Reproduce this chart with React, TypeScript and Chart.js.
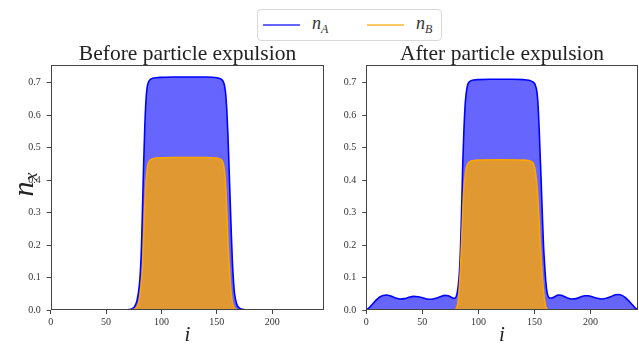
import React, { useEffect, useRef } from "react";
import { Chart, registerables } from "chart.js";

Chart.register(...registerables);

// ---------------- data ----------------
const beforeX = [0, 60, 70, 72, 74, 76, 78, 80, 81, 82, 83, 84, 85, 86, 87, 88, 89, 90, 92, 95, 100, 110, 120, 130, 140, 150, 153, 155, 156, 157, 158, 159, 160, 161, 162, 163, 164, 165, 166, 168, 170, 172, 175, 180, 247];
const beforeA = [0, 0, 0.001, 0.002, 0.005, 0.012, 0.03, 0.075, 0.12, 0.2, 0.33, 0.46, 0.57, 0.645, 0.685, 0.7, 0.707, 0.711, 0.714, 0.716, 0.717, 0.718, 0.718, 0.718, 0.718, 0.716, 0.713, 0.708, 0.702, 0.69, 0.665, 0.615, 0.54, 0.44, 0.34, 0.24, 0.15, 0.09, 0.05, 0.018, 0.007, 0.003, 0.001, 0, 0];
const beforeB = [0, 0, 0, 0, 0.001, 0.003, 0.01, 0.03, 0.055, 0.09, 0.135, 0.23, 0.33, 0.39, 0.43, 0.45, 0.458, 0.462, 0.466, 0.468, 0.469, 0.47, 0.47, 0.47, 0.47, 0.468, 0.465, 0.458, 0.448, 0.425, 0.375, 0.3, 0.21, 0.145, 0.09, 0.05, 0.025, 0.012, 0.005, 0.001, 0, 0, 0, 0, 0];

const afterAX = [0, 3, 6, 9, 12, 15, 18, 21, 24, 27, 30, 34, 38, 42, 46, 50, 54, 58, 62, 66, 70, 73, 76, 78, 79, 80, 81, 82, 83, 84, 85, 86, 87, 88, 89, 90, 91, 93, 96, 100, 110, 120, 130, 140, 145, 148, 150, 151, 152, 153, 154, 155, 156, 157, 158, 159, 160, 161, 162, 163, 165, 168, 171, 174, 177, 180, 183, 187, 191, 195, 198, 202, 206, 210, 214, 218, 222, 225, 228, 231, 234, 237, 240, 242];
const afterA = [0, 0.008, 0.02, 0.031, 0.04, 0.045, 0.046, 0.044, 0.04, 0.036, 0.034, 0.035, 0.039, 0.042, 0.041, 0.038, 0.034, 0.033, 0.036, 0.041, 0.045, 0.044, 0.039, 0.036, 0.036, 0.04, 0.052, 0.075, 0.115, 0.19, 0.31, 0.45, 0.55, 0.625, 0.665, 0.688, 0.699, 0.706, 0.709, 0.71, 0.711, 0.711, 0.711, 0.71, 0.708, 0.704, 0.698, 0.69, 0.675, 0.64, 0.57, 0.48, 0.39, 0.29, 0.2, 0.14, 0.09, 0.058, 0.043, 0.038, 0.037, 0.041, 0.046, 0.045, 0.041, 0.036, 0.034, 0.035, 0.04, 0.044, 0.044, 0.04, 0.036, 0.034, 0.036, 0.041, 0.047, 0.048, 0.045, 0.038, 0.028, 0.017, 0.006, 0];

const afterBX = [0, 78, 80, 81, 82, 83, 84, 85, 86, 87, 88, 89, 90, 92, 95, 100, 120, 140, 145, 148, 149, 150, 151, 152, 153, 154, 155, 156, 157, 158, 159, 160, 161, 163, 242];
const afterB = [0, 0, 0.003, 0.01, 0.03, 0.07, 0.13, 0.21, 0.3, 0.37, 0.41, 0.435, 0.447, 0.456, 0.46, 0.462, 0.463, 0.462, 0.46, 0.455, 0.45, 0.44, 0.42, 0.39, 0.34, 0.28, 0.21, 0.15, 0.1, 0.06, 0.03, 0.012, 0.004, 0, 0];

const xTicks = [0, 50, 100, 150, 200];
const yTicks = [0, 0.1, 0.2, 0.3, 0.4, 0.5, 0.6, 0.7];
const titles = ["Before particle expulsion", "After particle expulsion"];
const seriesLabels = ["A", "B"];

const BLUE = "#0000ff";
const ORANGE = "#ffa500";
const SERIF = '"Liberation Serif", "DejaVu Serif", serif';

const pts = (xs: number[], ys: number[]) => xs.map((x, i) => ({ x, y: ys[i] }));

const framePlugin = {
  id: "frame",
  afterDraw(chart: any) {
    const { ctx, chartArea: a } = chart;
    ctx.save();
    ctx.strokeStyle = "#444";
    ctx.lineWidth = 1;
    const l = Math.round(a.left) + 0.5;
    const t = Math.round(a.top) + 0.5;
    const r = Math.round(a.right) - 0.5;
    const b = Math.round(a.bottom) - 0.5;
    ctx.strokeRect(l, t, r - l, b - t);
    ctx.restore();
  },
};

const yLabelPlugin = {
  id: "ylabel",
  afterDraw(chart: any) {
    const opts = chart.options.plugins.ylabel;
    if (!opts || !opts.show) return;
    const ctx = chart.ctx;
    ctx.save();
    ctx.translate(25, 185);
    ctx.rotate(-Math.PI / 2);
    ctx.fillStyle = "#222";
    ctx.textBaseline = "alphabetic";
    ctx.textAlign = "left";
    ctx.font = `italic 30px ${SERIF}`;
    const wn = ctx.measureText("n").width;
    ctx.font = `italic 18px ${SERIF}`;
    const wx = ctx.measureText("x").width;
    const start = -(wn + wx) / 2;
    ctx.font = `italic 30px ${SERIF}`;
    ctx.fillText("n", start, 8);
    ctx.font = `italic 18px ${SERIF}`;
    ctx.fillText("x", start + wn + 1, 12);
    ctx.restore();
  },
};

function makeConfig(
  title: string,
  xs1: number[], ys1: number[],
  xs2: number[], ys2: number[],
  xMax: number, yAxisWidth: number, padRight: number, showY: boolean
): any {
  return {
    type: "line",
    data: {
      datasets: [
        {
          data: pts(xs1, ys1),
          borderColor: BLUE,
          backgroundColor: "rgba(0,0,255,0.6)",
          borderWidth: 1.6,
          fill: "origin",
          pointRadius: 0,
          cubicInterpolationMode: "monotone",
          order: 1,
        },
        {
          data: pts(xs2, ys2),
          borderColor: ORANGE,
          backgroundColor: "rgba(255,165,0,0.8)",
          borderWidth: 1.6,
          fill: "origin",
          pointRadius: 0,
          cubicInterpolationMode: "monotone",
          order: 0,
        },
      ],
    },
    options: {
      animation: false,
      responsive: false,
      events: [],
      layout: { padding: { left: 0, right: padRight, top: 0, bottom: 0 } },
      plugins: {
        legend: { display: false },
        tooltip: { enabled: false },
        title: {
          display: true,
          text: title,
          fullSize: false,
          color: "#222",
          font: { family: SERIF, size: 21.5, weight: "normal", lineHeight: 1.2 },
          padding: { top: 41.1, bottom: -2.2 },
        },
        ylabel: { show: showY },
      },
      scales: {
        x: {
          type: "linear",
          min: 0,
          max: xMax,
          afterFit: (s: any) => { s.height = 34; },
          afterBuildTicks: (s: any) => { s.ticks = xTicks.map((v) => ({ value: v })); },
          ticks: {
            includeBounds: false,
            color: "#333",
            font: { family: SERIF, size: 10 },
            padding: 2,
            maxRotation: 0,
            callback: (v: number) => String(v),
          },
          grid: { display: true, drawOnChartArea: false, drawTicks: true, tickLength: 4, color: "#444" },
          border: { display: false },
          title: {
            display: true,
            text: "i",
            color: "#222",
            font: { family: SERIF, size: 21, style: "italic", lineHeight: 1 },
            padding: { top: 0, bottom: -2 },
          },
        },
        y: {
          type: "linear",
          min: 0,
          max: 0.756,
          afterFit: (s: any) => { s.width = yAxisWidth; },
          afterBuildTicks: (s: any) => { s.ticks = yTicks.map((v) => ({ value: v })); },
          ticks: {
            includeBounds: false,
            color: "#333",
            font: { family: SERIF, size: 10 },
            padding: 6,
            callback: (v: number) => Number(v).toFixed(1),
          },
          grid: { display: true, drawOnChartArea: false, drawTicks: true, tickLength: 4, color: "#444" },
          border: { display: false },
        },
      },
    },
    plugins: [framePlugin, yLabelPlugin],
  };
}

export default function App() {
  const leftRef = useRef<HTMLCanvasElement>(null);
  const rightRef = useRef<HTMLCanvasElement>(null);

  useEffect(() => {
    document.body.style.margin = "0";
    const c1 = new Chart(
      leftRef.current as HTMLCanvasElement,
      makeConfig(titles[0], beforeX, beforeA, beforeX, beforeB, 247, 50.7, 5.7, true)
    );
    const c2 = new Chart(
      rightRef.current as HTMLCanvasElement,
      makeConfig(titles[1], afterAX, afterA, afterBX, afterB, 242, 36.3, 1.3, false)
    );
    return () => {
      c1.destroy();
      c2.destroy();
    };
  }, []);

  const legendItem = (color: string, sub: string, lineLeft: number, textLeft: number) => (
    <>
      <div style={{ position: "absolute", left: lineLeft, top: 14, width: 37, height: 2, background: color }} />
      <div style={{ position: "absolute", left: textLeft, top: 2, fontFamily: SERIF, fontSize: 18, color: "#333", lineHeight: "22px", whiteSpace: "nowrap" }}>
        <i>n</i>
        <i style={{ fontSize: 12, position: "relative", top: 4 }}>{sub}</i>
      </div>
    </>
  );

  return (
    <div style={{ position: "relative", width: 639, height: 344, overflow: "hidden", background: "#fff" }}>
      <canvas ref={leftRef} width={330} height={344} style={{ position: "absolute", left: 0, top: 0, width: 330, height: 344 }} />
      <canvas ref={rightRef} width={309} height={344} style={{ position: "absolute", left: 330, top: 0, width: 309, height: 344 }} />
      <div style={{ position: "absolute", left: 257, top: 9, width: 185, height: 32, border: "1px solid #d8d8d8", borderRadius: 4, boxSizing: "border-box", background: "#fff" }}>
        {legendItem("rgba(0,0,255,0.6)", seriesLabels[0], 5, 54)}
        {legendItem("rgba(255,165,0,0.6)", seriesLabels[1], 109, 158)}
      </div>
    </div>
  );
}
